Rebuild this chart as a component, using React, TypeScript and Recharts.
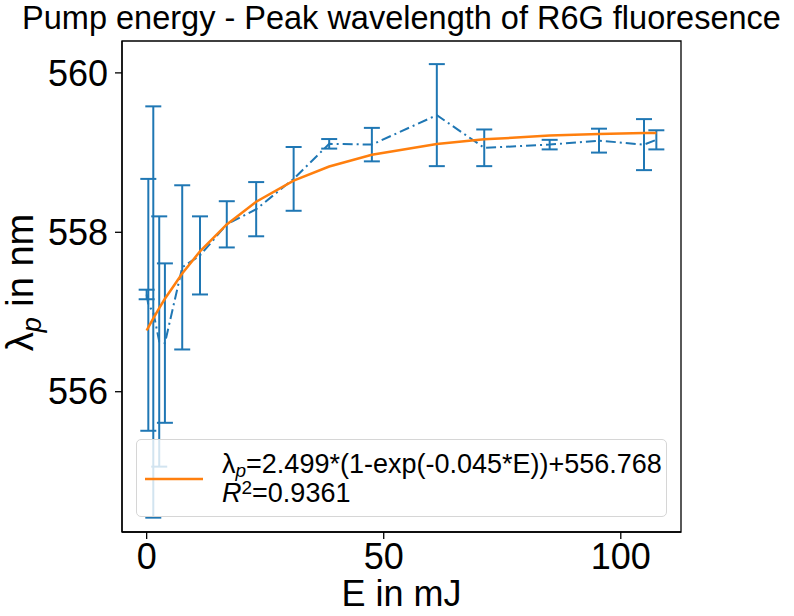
import React from 'react';
import { ComposedChart, Line, XAxis, YAxis, ErrorBar, Legend, ReferenceArea } from 'recharts';

const FONT = "'Liberation Sans', Arial, Helvetica, sans-serif";

// Pump energy E in mJ
const energy = [0, 0.35, 1.4, 2.65, 3.85, 7.5, 11.25, 16.9, 23.1, 31.0, 38.5, 47.5, 61.2, 71.2, 85.0, 95.4, 104.9, 107.5];
// Measured peak wavelength in nm
const peak = [557.22, 557.09, 557.0, 556.63, 556.61, 557.56, 557.71, 558.1, 558.29, 558.67, 559.11, 559.1, 559.47, 559.06, 559.1, 559.15, 559.1, 559.16];
// Error (half-length) in nm
const peakErr = [0.06, 1.58, 2.58, 1.57, 1.0, 1.03, 0.49, 0.29, 0.34, 0.4, 0.06, 0.21, 0.64, 0.23, 0.06, 0.15, 0.32, 0.12];
// Fit curve values at the same energies
const fitValues = [556.768, 556.807, 556.921, 557.049, 557.166, 557.484, 557.761, 558.099, 558.383, 558.648, 558.825, 558.972, 559.108, 559.166, 559.213, 559.233, 559.245, 559.247];

const xTicks = [0, 50, 100];
const yTicks = [556, 558, 560];
const xDomain = [-5.2, 112.7];
const yDomain = [554.24, 560.4];

const titleText = 'Pump energy - Peak wavelength of R6G fluoresence';
const xLabelText = 'E in mJ';
const yLabelMain = 'λ';
const yLabelSub = 'p';
const yLabelRest = ' in nm';
const fitLabelText = '=2.499*(1-exp(-0.045*E))+556.768';
const r2LabelText = '=0.9361';

const data = energy.map((e, i) => ({ E: e, peak: peak[i], err: peakErr[i], fit: fitValues[i] }));

const BLUE = '#1f77b4';
const ORANGE = '#ff7f0e';

const XLabel = (props: any) => {
  const vb = props.viewBox || {};
  const cx = vb.x + vb.width / 2;
  return (
    <text x={cx} y={vb.y + 74} textAnchor="middle" fontSize={36} fontFamily={FONT} fill="#000">
      {xLabelText}
    </text>
  );
};

const YLabel = (props: any) => {
  const vb = props.viewBox || {};
  const cy = vb.y + vb.height / 2 - 4;
  return (
    <text transform={`translate(33, ${cy}) rotate(-90)`} x={0} y={0} textAnchor="middle" fontSize={38} fontFamily={FONT} fill="#000">
      {yLabelMain}
      <tspan fontStyle="italic" fontSize={27} dy={8}>{yLabelSub}</tspan>
      <tspan dy={-8}>{yLabelRest}</tspan>
    </text>
  );
};

const LegendBox = () => (
  <div
    style={{
      boxSizing: 'border-box',
      width: 531,
      height: 78,
      background: 'rgba(255,255,255,0.8)',
      border: '1px solid #d6d6d6',
      borderRadius: 5,
      position: 'relative',
      fontFamily: FONT,
      fontSize: 27,
      color: '#000',
    }}
  >
    <svg style={{ position: 'absolute', left: 8, top: 37 }} width={58} height={4}>
      <line x1={0} x2={58} y1={2} y2={2} stroke={ORANGE} strokeWidth={2.5} />
    </svg>
    <div style={{ position: 'absolute', left: 85, top: 10, lineHeight: '29px', whiteSpace: 'nowrap' }}>
      <div>
        λ<span style={{ fontStyle: 'italic', fontSize: 19, position: 'relative', top: 4, lineHeight: 0 }}>p</span>
        {fitLabelText}
      </div>
      <div>
        <i>R</i>
        <span style={{ fontSize: 19, position: 'relative', top: -8, lineHeight: 0 }}>2</span>
        {r2LabelText}
      </div>
    </div>
  </div>
);

export default function App() {
  return (
    <div style={{ position: 'absolute', left: 0, top: 0, width: 794, height: 616, background: '#fff' }}>
      <div
        style={{
          position: 'absolute',
          left: 9,
          top: 2,
          width: 785,
          textAlign: 'center',
          fontFamily: FONT,
          fontSize: 32.5,
          lineHeight: '32px',
          color: '#000',
          whiteSpace: 'nowrap',
          zIndex: 2,
        }}
      >
        {titleText}
      </div>
      <ComposedChart width={794} height={616} data={data} margin={{ top: 41, right: 113, bottom: 24, left: 42 }}>
        <XAxis
          dataKey="E"
          type="number"
          domain={xDomain}
          allowDataOverflow
          ticks={xTicks}
          height={60}
          tickSize={7}
          tickMargin={4}
          tick={{ fontSize: 36, fill: '#000', fontFamily: FONT }}
          axisLine={{ stroke: '#000', strokeWidth: 1.3 }}
          tickLine={{ stroke: '#000', strokeWidth: 1.3 }}
          label={{ content: <XLabel /> } as any}
        />
        <YAxis
          type="number"
          domain={yDomain}
          allowDataOverflow
          ticks={yTicks}
          width={80}
          tickSize={7}
          tickMargin={7}
          tick={{ fontSize: 36, fill: '#000', fontFamily: FONT }}
          axisLine={{ stroke: '#000', strokeWidth: 1.3 }}
          tickLine={{ stroke: '#000', strokeWidth: 1.3 }}
          label={{ content: <YLabel /> } as any}
        />
        <ReferenceArea
          x1={xDomain[0]}
          x2={xDomain[1]}
          y1={yDomain[0]}
          y2={yDomain[1]}
          fill="none"
          fillOpacity={0}
          stroke="#000"
          strokeWidth={1.3}
          ifOverflow="visible"
        />
        <Line
          type="linear"
          dataKey="peak"
          stroke={BLUE}
          strokeWidth={2}
          strokeDasharray="10 4 2 4"
          dot={false}
          activeDot={false}
          isAnimationActive={false}
        >
          <ErrorBar dataKey="err" direction="y" width={8} stroke={BLUE} strokeWidth={2} isAnimationActive={false} />
        </Line>
        <Line
          type="linear"
          dataKey="fit"
          stroke={ORANGE}
          strokeWidth={2.5}
          dot={false}
          activeDot={false}
          isAnimationActive={false}
        />
        <Legend
          layout="horizontal"
          verticalAlign="middle"
          align="center"
          wrapperStyle={{ position: 'absolute', left: 136, top: 439, width: 531, height: 78 }}
          content={() => <LegendBox />}
        />
      </ComposedChart>
    </div>
  );
}
